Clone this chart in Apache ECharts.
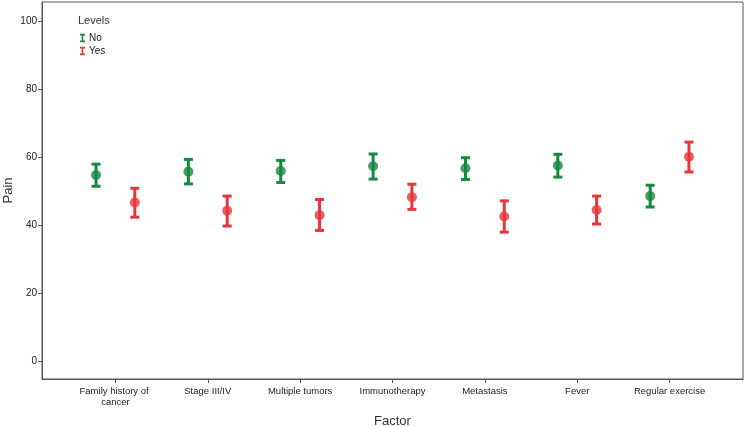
<!DOCTYPE html>
<html>
<head>
<meta charset="utf-8">
<script src="https://cdn.jsdelivr.net/npm/echarts@6/dist/echarts.min.js"></script>
</head>
<body style="margin:0;background:#fff">
<div id="main" style="width:746px;height:427px"></div>
<script>
// factors on the x axis
var factors = ['Family history of cancer', 'Stage III/IV', 'Multiple tumors', 'Immunotherapy',
               'Metastasis', 'Fever', 'Regular exercise'];
// level "No": mean and CI
var noMean = [54.7, 55.7, 55.9, 57.3, 56.7, 57.5, 48.5];
var noLow  = [51.4, 52.1, 52.5, 53.5, 53.4, 54.1, 45.3];
var noHigh = [57.9, 59.3, 59.0, 60.9, 59.8, 60.8, 51.7];
// level "Yes": mean and CI
var yesMean = [46.6, 44.2, 42.9, 48.2, 42.5, 44.4, 60.1];
var yesLow  = [42.3, 39.7, 38.4, 44.6, 37.9, 40.3, 55.6];
var yesHigh = [50.8, 48.5, 47.5, 52.0, 47.1, 48.5, 64.4];
var yTicks = [0, 20, 40, 60, 80, 100];

var green = '#14893f';
var red = '#e8353d';
var shift = 0.21; // side-by-side dodge

function rangeData(low, high) {
    return low.map(function (v, i) { return [i, v, high[i]]; });
}
function meanData(mean, off) {
    return mean.map(function (v, i) { return [i + off, v]; });
}
function errorBar(off, color) {
    return function (params, api) {
        var x = api.value(0) + off;
        var top = api.coord([x, api.value(2)]);
        var bot = api.coord([x, api.value(1)]);
        var hw = 4.5;
        var st = { stroke: color, lineWidth: 3 };
        return {
            type: 'group',
            children: [
                { type: 'line', shape: { x1: top[0], y1: top[1], x2: bot[0], y2: bot[1] }, style: st },
                { type: 'line', shape: { x1: top[0] - hw, y1: top[1], x2: top[0] + hw, y2: top[1] }, style: st },
                { type: 'line', shape: { x1: bot[0] - hw, y1: bot[1], x2: bot[0] + hw, y2: bot[1] }, style: st }
            ]
        };
    };
}

var barIcon = 'path://M0,0H6V2H4V8H6V10H0V8H2V2H0Z';
var font = 'Liberation Sans';

var chart = echarts.init(document.getElementById('main'));
var option = {
    animation: false,
    textStyle: { fontFamily: font },
    title: {
        text: 'Levels', left: 78, top: 15, padding: 0,
        textStyle: { fontSize: 11, fontWeight: 'normal', color: '#333', fontFamily: font }
    },
    legend: {
        orient: 'vertical', left: 80, top: 33, padding: 0,
        itemWidth: 5, itemHeight: 9, itemGap: 3,
        textStyle: { fontSize: 10, color: '#222', padding: [0, 0, 0, -1] },
        data: [{ name: 'No', icon: barIcon }, { name: 'Yes', icon: barIcon }]
    },
    grid: {
        left: 42, right: 3, top: 2, bottom: 48,
        outerBoundsMode: 'none', containLabel: false,
        show: true, borderColor: '#555', borderWidth: 1
    },
    xAxis: {
        type: 'value', min: -0.795, max: 6.795,
        name: 'Factor', nameLocation: 'middle', nameGap: 36, nameMoveOverlap: false,
        nameTextStyle: { fontSize: 13, color: '#333' },
        splitLine: { show: false },
        axisLine: { onZero: false, lineStyle: { color: '#555' } },
        axisTick: { length: 4, customValues: [0, 1, 2, 3, 4, 5, 6], lineStyle: { color: '#555' } },
        axisLabel: {
            customValues: [0, 1, 2, 3, 4, 5, 6],
            formatter: function (v) { return factors[v]; },
            fontSize: 9.5, color: '#222', margin: 7, lineHeight: 11,
            width: 76, overflow: 'break'
        }
    },
    yAxis: {
        type: 'value', min: -5.3, max: 105.6,
        name: 'Pain', nameLocation: 'middle', nameGap: 27, nameMoveOverlap: false,
        nameTextStyle: { fontSize: 13, color: '#333' },
        splitLine: { show: false },
        axisLine: { show: true, onZero: false, lineStyle: { color: '#555' } },
        axisTick: { show: true, length: 4, customValues: yTicks, lineStyle: { color: '#555' } },
        axisLabel: { customValues: yTicks, fontSize: 10, color: '#222', margin: 5 }
    },
    series: [
        {
            name: 'No', type: 'custom', itemStyle: { color: green },
            renderItem: errorBar(-shift, green),
            encode: { x: 0, y: [1, 2] },
            data: rangeData(noLow, noHigh)
        },
        {
            name: 'Yes', type: 'custom', itemStyle: { color: red },
            renderItem: errorBar(shift, red),
            encode: { x: 0, y: [1, 2] },
            data: rangeData(yesLow, yesHigh)
        },
        {
            name: 'No', type: 'scatter', symbolSize: 10,
            itemStyle: { color: green },
            data: meanData(noMean, -shift)
        },
        {
            name: 'Yes', type: 'scatter', symbolSize: 10,
            itemStyle: { color: red },
            data: meanData(yesMean, shift)
        }
    ]
};
chart.clear();
chart.setOption(option);
</script>
</body>
</html>
